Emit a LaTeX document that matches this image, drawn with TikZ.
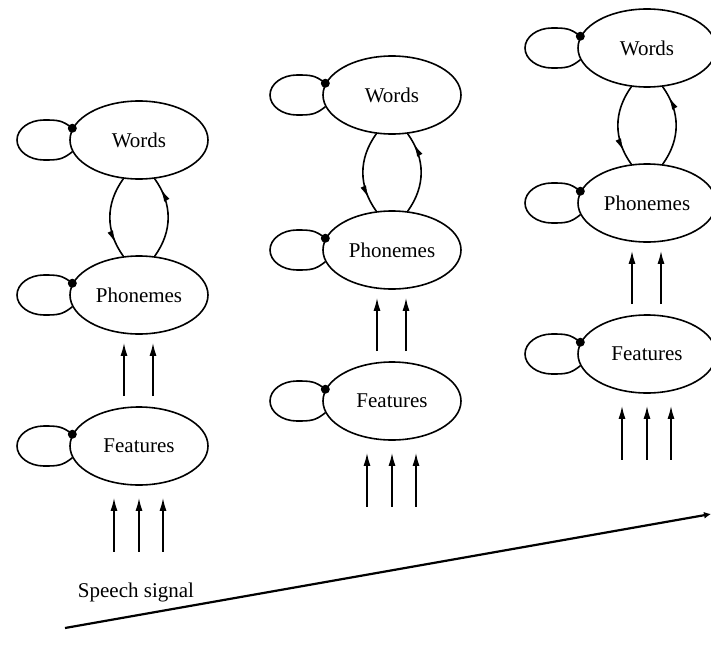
\documentclass[tikz,border=0pt]{standalone}
\usepackage{fontspec}
\setmainfont{Liberation Serif}
\usetikzlibrary{shapes.geometric,arrows.meta,calc,decorations.markings}
\tikzset{
  lvl/.style={draw, ellipse, line width=1.6pt, minimum width=138pt, minimum height=78pt, inner sep=0pt, fill=white, font=\fontsize{21}{24}\selectfont},
  arr/.style={line width=1.6pt, -{Latex[length=13pt,width=7pt]}},
  curv/.style={line width=1.6pt, decoration={markings, mark=at position #1 with {\arrow{Latex[length=13pt,width=6pt]}}}, postaction={decorate}},
}
\newcommand{\lvlnode}[3]{%
  \node[lvl] (#1) at (#2) {#3};
  \draw[line width=1.6pt] (#1.170) .. controls +(-10,-8) and +(14,0) .. ($(#1)+(-95,-20)$)
     .. controls +(-15,0) and +(0,-11) .. ($(#1)+(-122,0)$)
     .. controls +(0,11) and +(-15,0) .. ($(#1)+(-95,20)$)
     .. controls +(14,0) and +(-10,8) .. (#1.190);
  \fill (#1.170) circle (4.5pt);
}
\newcommand{\lvlcolumn}[3]{% suffix, x, y
  \lvlnode{W#1}{#2,#3}{Words}
  \lvlnode{P#1}{$(W#1)+(0,155)$}{Phonemes}
  \lvlnode{F#1}{$(W#1)+(0,306)$}{Features}
  \draw[curv=0.82] (W#1.248) .. controls +(-18,25) and +(-18,-25) .. (P#1.112);
  \draw[curv=0.86] (P#1.68) .. controls +(18,-25) and +(18,25) .. (W#1.292);
  \draw[arr] ($(F#1.north)+(-15,-10)$) -- ($(P#1.south)+(-15,8)$);
  \draw[arr] ($(F#1.north)+(14,-10)$) -- ($(P#1.south)+(14,8)$);
  \foreach \dx in {-25,0,24}{
    \draw[arr] ($(F#1.south)+(\dx,66)$) -- ($(F#1.south)+(\dx,12)$);
  }
}
\begin{document}
\begin{tikzpicture}[x=1pt,y=-1pt]
\useasboundingbox (0,0) rectangle (711,650);
\lvlcolumn{1}{139}{140}
\lvlcolumn{2}{392}{95}
\lvlcolumn{3}{647}{48}
\node[font=\fontsize{21}{24}\selectfont] (sp) at (136,592) {Speech signal};
\coordinate (t0) at (65,628);
\coordinate (t1) at (711,514);
\draw[line width=2.2pt, -{Latex[length=7pt,width=7pt]}] (t0) -- (t1);
\end{tikzpicture}
\end{document}
